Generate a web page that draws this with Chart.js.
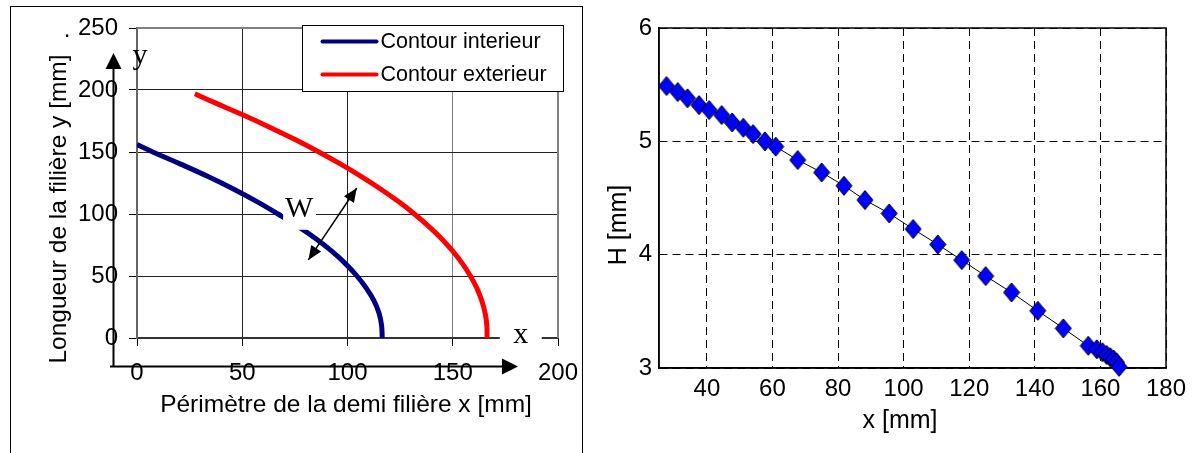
<!DOCTYPE html>
<html>
<head>
<meta charset="utf-8">
<script src="https://cdn.jsdelivr.net/npm/chart.js@4.4.0/dist/chart.umd.min.js"></script>
<style>
  html, body { margin: 0; padding: 0; background: #fff; }
  #wrap { position: relative; width: 1197px; height: 453px; overflow: hidden; }
  #leftBox { position: absolute; left: 0; top: 0; width: 600px; height: 453px; }
  #rightBox { position: absolute; left: 600px; top: 0; width: 597px; height: 453px; }
</style>
</head>
<body>
<div id="wrap">
  <div id="leftBox"><canvas id="leftChart"></canvas></div>
  <div id="rightBox"><canvas id="rightChart"></canvas></div>
</div>
<script>
// left chart - contours of the half die
const interieurY = [156, 150, 140, 130, 120, 110, 100, 90, 80, 70, 60, 50, 40, 30, 20, 10, 0];
const interieurX = [0, 7.5, 21, 34, 46, 57, 67, 76.5, 85, 92.5, 99, 104.5, 109, 112.6, 115, 116.2, 116.5];
const exterieurY = [197, 190, 180, 170, 160, 150, 140, 130, 120, 110, 100, 90, 80, 70, 60, 50, 40, 30, 20, 10, 0];
const exterieurX = [27.5, 36.6, 50.2, 63, 75.1, 86.4, 97, 106.8, 115.9, 124.2, 131.8, 138.6, 144.7, 150, 154.6, 158.4, 161.5, 163.8, 165.4, 166.2, 166.3];
const leftXTicks = [0, 50, 100, 150, 200];
const leftYTicks = [0, 50, 100, 150, 200, 250];
const legendLabels = ['Contour interieur', 'Contour exterieur'];

// right chart - thickness H along x
const hX = [27.7, 31.1, 34.1, 37.6, 40.7, 44.5, 47.7, 51.1, 54.1, 57.7, 61.0, 67.7, 75.0, 81.8, 88.2, 95.6,
            102.9, 110.4, 117.7, 125.0, 132.9, 140.9, 148.7, 156.3, 158.9, 160.6, 161.9, 163.0, 164.0, 164.9, 165.7];
const hValues = [5.488, 5.435, 5.38, 5.32, 5.276, 5.232, 5.167, 5.12, 5.064, 5.0, 4.953, 4.835, 4.726, 4.608, 4.482, 4.364,
                 4.226, 4.09, 3.952, 3.811, 3.667, 3.505, 3.35, 3.196, 3.165, 3.14, 3.115, 3.095, 3.075, 3.05, 3.01];
const rightXTicks = [40, 60, 80, 100, 120, 140, 160, 180];
const rightYTicks = [3, 4, 5, 6];

const SANS = '"Liberation Sans", Arial, sans-serif';
const SERIF = '"Liberation Serif", "Times New Roman", serif';
Chart.defaults.font.family = SANS;
Chart.defaults.color = '#000';

function toPoints(xs, ys) {
    return xs.map((x, i) => ({ x: x, y: ys[i] }));
}

function arrowHead(ctx, x1, y1, x2, y2, len, half) {
    const a = Math.atan2(y2 - y1, x2 - x1);
    ctx.beginPath();
    ctx.moveTo(x2, y2);
    ctx.lineTo(x2 - len * Math.cos(a) + half * Math.sin(a), y2 - len * Math.sin(a) - half * Math.cos(a));
    ctx.lineTo(x2 - len * Math.cos(a) - half * Math.sin(a), y2 - len * Math.sin(a) + half * Math.cos(a));
    ctx.closePath();
    ctx.fill();
}

// Excel style extras: frame, arrows, x / y / W labels, legend box
const leftDecor = {
    id: 'leftDecor',
    beforeDatasetsDraw(chart) {
        const ctx = chart.ctx, ca = chart.chartArea;
        ctx.save();
        ctx.strokeStyle = '#808080';
        ctx.lineWidth = 2;
        ctx.beginPath();
        ctx.moveTo(ca.left, ca.top);
        ctx.lineTo(ca.right, ca.top);
        ctx.lineTo(ca.right, ca.bottom);
        ctx.stroke();
        ctx.restore();
    },
    afterDatasetsDraw(chart) {
        const ctx = chart.ctx, ca = chart.chartArea;
        const xs = chart.scales.x, ys = chart.scales.y;
        ctx.save();
        // W label with white box
        const wx = xs.getPixelForValue(77), wy = ys.getPixelForValue(105);
        ctx.fillStyle = '#fff';
        ctx.fillRect(wx - 16, wy - 15, 33, 37);
        ctx.fillStyle = '#000';
        ctx.font = '30px ' + SERIF;
        ctx.textAlign = 'center';
        ctx.textBaseline = 'middle';
        ctx.fillText('W', wx, wy + 1);
        // double arrow across the gap
        const ax1 = xs.getPixelForValue(81.4), ay1 = ys.getPixelForValue(63);
        const ax2 = xs.getPixelForValue(104.4), ay2 = ys.getPixelForValue(121);
        ctx.strokeStyle = '#000';
        ctx.lineWidth = 1.5;
        ctx.beginPath();
        ctx.moveTo(ax1, ay1);
        ctx.lineTo(ax2, ay2);
        ctx.stroke();
        arrowHead(ctx, ax2, ay2, ax1, ay1, 14, 6);
        arrowHead(ctx, ax1, ay1, ax2, ay2, 14, 6);
        // x label breaking the axis line
        const lx = xs.getPixelForValue(182.3);
        ctx.fillStyle = '#fff';
        ctx.fillRect(lx - 21, ca.bottom - 16, 42, 14);
        ctx.fillRect(lx - 21, ca.bottom - 2, 42, 5);
        ctx.fillStyle = '#000';
        ctx.font = '30px ' + SERIF;
        ctx.textAlign = 'center';
        ctx.textBaseline = 'alphabetic';
        ctx.fillText('x', lx, ca.bottom + 5);
        ctx.fillText('y', ca.left + 3, ca.top + 36);
        ctx.restore();
    },
    afterDraw(chart) {
        const ctx = chart.ctx, ca = chart.chartArea;
        ctx.save();
        // outer frame of the excel chart
        ctx.strokeStyle = '#000';
        ctx.lineWidth = 1;
        ctx.strokeRect(10.5, 6.5, 572, 480);
        // coordinate arrows
        ctx.fillStyle = '#000';
        ctx.lineWidth = 2;
        const vx = ca.left - 23.5, hy = ca.bottom + 28.5;
        ctx.beginPath();
        ctx.moveTo(vx, hy);
        ctx.lineTo(vx, ca.top + 38);
        ctx.moveTo(ca.left - 27, hy);
        ctx.lineTo(ca.right - 52, hy);
        ctx.stroke();
        arrowHead(ctx, vx, hy, vx, ca.top + 25, 16, 8);
        arrowHead(ctx, ca.left - 27, hy, ca.right - 40, hy, 16, 8);
        // axis titles
        ctx.font = '24.5px ' + SANS;
        ctx.textAlign = 'center';
        ctx.textBaseline = 'middle';
        ctx.fillText('Périmètre de la demi filière x [mm]', 346, 405);
        ctx.save();
        ctx.translate(59, 209);
        ctx.rotate(-Math.PI / 2);
        ctx.fillText('Longueur de la filière y [mm]', 0, 0);
        ctx.restore();
        ctx.textBaseline = 'alphabetic';
        ctx.font = '24px ' + SANS;
        ctx.fillText('.', 67, 37);
        // legend box
        const bx = ca.left + 165.5, by = ca.top - 2.5, bw = 261, bh = 66;
        ctx.fillStyle = '#fff';
        ctx.fillRect(bx, by, bw, bh);
        ctx.strokeStyle = '#000';
        ctx.lineWidth = 1;
        ctx.strokeRect(bx, by, bw, bh);
        ctx.font = '21.5px ' + SANS;
        ctx.textAlign = 'left';
        ctx.textBaseline = 'middle';
        chart.data.datasets.forEach((ds, i) => {
            const ly = by + 16 + i * 33;
            ctx.strokeStyle = ds.borderColor;
            ctx.lineWidth = 4;
            ctx.lineCap = 'round';
            ctx.beginPath();
            ctx.moveTo(bx + 20, ly);
            ctx.lineTo(bx + 74, ly);
            ctx.stroke();
            ctx.fillStyle = '#000';
            ctx.fillText(ds.label, bx + 78, ly + 1);
        });
        ctx.restore();
    }
};

const leftCtx = document.getElementById('leftChart').getContext('2d');
new Chart(leftCtx, {
    type: 'scatter',
    data: {
        datasets: [
            {
                label: legendLabels[0],
                data: toPoints(interieurX, interieurY),
                showLine: true,
                borderColor: '#000080',
                borderWidth: 5,
                pointRadius: 0,
                tension: 0.4
            },
            {
                label: legendLabels[1],
                data: toPoints(exterieurX, exterieurY),
                showLine: true,
                borderColor: '#ff0000',
                borderWidth: 5,
                pointRadius: 0,
                tension: 0.4
            }
        ]
    },
    options: {
        animation: false,
        responsive: true,
        maintainAspectRatio: false,
        events: [],
        layout: { padding: { top: 28, right: 42, left: 0, bottom: 0 } },
        plugins: { legend: { display: false }, tooltip: { enabled: false } },
        scales: {
            x: {
                type: 'linear',
                min: 0,
                max: 200,
                afterBuildTicks: s => { s.ticks = leftXTicks.map(v => ({ value: v })); },
                afterFit: s => { s.height = 115; },
                grid: {
                    color: c => (c.tick && c.tick.value === 150) ? '#808080' : '#222',
                    tickColor: '#000',
                    tickLength: 8
                },
                border: { color: '#333', width: 2 },
                ticks: { font: { size: 24 }, padding: 13, maxRotation: 0 }
            },
            y: {
                min: 0,
                max: 250,
                afterBuildTicks: s => { s.ticks = leftYTicks.map(v => ({ value: v })); },
                afterFit: s => { s.width = 137; },
                grid: {
                    color: c => (c.tick && c.tick.value === 250) ? '#808080' : '#222',
                    tickColor: '#000',
                    tickLength: 8
                },
                border: { color: '#666', width: 2 },
                ticks: { font: { size: 24 }, padding: 11 }
            }
        }
    },
    plugins: [leftDecor]
});

// MATLAB style diamond marker
function diamondImage(w, h, fill) {
    const c = document.createElement('canvas');
    c.width = w + 2;
    c.height = h + 2;
    const g = c.getContext('2d');
    g.beginPath();
    g.moveTo(w / 2 + 1, 1);
    g.lineTo(w + 1, h / 2 + 1);
    g.lineTo(w / 2 + 1, h + 1);
    g.lineTo(1, h / 2 + 1);
    g.closePath();
    g.fillStyle = fill;
    g.fill();
    g.lineWidth = 1;
    g.strokeStyle = '#000';
    g.stroke();
    return c;
}

const rightDecor = {
    id: 'rightDecor',
    beforeDatasetsDraw(chart) {
        const ctx = chart.ctx, ca = chart.chartArea;
        ctx.save();
        ctx.strokeStyle = '#000';
        ctx.lineWidth = 1.5;
        ctx.strokeRect(ca.left, ca.top, ca.right - ca.left, ca.bottom - ca.top);
        ctx.restore();
    },
    afterDraw(chart) {
        const ctx = chart.ctx;
        ctx.save();
        ctx.fillStyle = '#000';
        ctx.font = '25px ' + SANS;
        ctx.textAlign = 'center';
        ctx.textBaseline = 'middle';
        ctx.fillText('x [mm]', 300, 421);
        ctx.translate(19, 225);
        ctx.rotate(-Math.PI / 2);
        ctx.fillText('H [mm]', 0, 0);
        ctx.restore();
    }
};

const rightCtx = document.getElementById('rightChart').getContext('2d');
new Chart(rightCtx, {
    type: 'scatter',
    data: {
        datasets: [{
            label: 'H',
            data: toPoints(hX, hValues),
            showLine: true,
            borderColor: '#000',
            borderWidth: 1,
            pointStyle: diamondImage(16, 19, '#0000ff'),
            pointRadius: 9,
            clip: false
        }]
    },
    options: {
        animation: false,
        responsive: true,
        maintainAspectRatio: false,
        events: [],
        layout: { padding: { top: 28, right: 31, left: 0, bottom: 0 } },
        plugins: { legend: { display: false }, tooltip: { enabled: false } },
        scales: {
            x: {
                type: 'linear',
                min: 25.4,
                max: 180,
                afterBuildTicks: s => { s.ticks = rightXTicks.map(v => ({ value: v })); },
                afterFit: s => { s.height = 85; },
                grid: { color: '#000', lineWidth: 1, drawTicks: false },
                border: { color: '#000', width: 1.5, dash: [8, 5] },
                ticks: { font: { size: 24 }, padding: 7, maxRotation: 0 }
            },
            y: {
                min: 3,
                max: 6,
                afterBuildTicks: s => { s.ticks = rightYTicks.map(v => ({ value: v })); },
                afterFit: s => { s.width = 59; },
                grid: { color: '#000', lineWidth: 1, drawTicks: false },
                border: { color: '#000', width: 1.5, dash: [8, 5] },
                ticks: { font: { size: 24 }, padding: 7 }
            }
        }
    },
    plugins: [rightDecor]
});
</script>
</body>
</html>
